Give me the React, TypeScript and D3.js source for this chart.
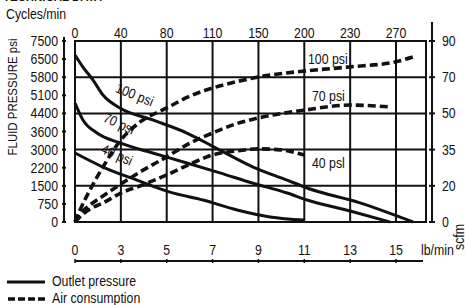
import React from 'react';
import * as d3 from 'd3';

// axis tick values (both x axes share the same grid columns)
const lbTicks = [0, 3, 5, 7, 9, 11, 13, 15];
const cycleTicks = [0, 40, 80, 110, 150, 200, 230, 270];
const psiTicks = [0, 750, 1500, 2200, 3000, 3600, 4400, 5100, 5800, 6500, 7500];
const scfmTicks = [0, 20, 35, 50, 70, 90];

// outlet pressure (psi) vs flow (lb/min)
const outlet100: [number, number][] = [
  [0, 6730], [0.52, 6190], [1.18, 5690], [1.83, 5110], [2.94, 4610], [4.39, 4110],
  [5.88, 3550], [7.32, 2980], [8.77, 2230], [10.25, 1720], [11.12, 1410], [13.43, 790], [15.74, 0],
];
const outlet70: [number, number][] = [
  [0, 4800], [0.52, 4110], [1.44, 3550], [2.94, 3220], [4.39, 2850], [5.88, 2410],
  [7.32, 2000], [8.77, 1600], [10.25, 1200], [11.12, 910], [13, 455], [14.74, 0],
];
const outlet40: [number, number][] = [
  [0, 2850], [1.83, 2230], [3.7, 1720], [5.14, 1240], [6.58, 910], [8.07, 500], [9.51, 210], [11, 80],
];

// air consumption (scfm) vs flow (lb/min)
const air100: [number, number][] = [
  [0, 0], [0.33, 6.6], [0.98, 17.7], [1.83, 27.8], [3, 39], [3.83, 46.4], [5, 53], [6.02, 59.6],
  [7, 64], [8, 67.4], [9, 70.1], [11, 73.4], [13, 75.7], [14.95, 78.4], [15.74, 81.2],
];
const air70: [number, number][] = [
  [0, 0], [0.33, 4.4], [0.98, 9.4], [1.83, 14.4], [3, 20.7], [3.83, 25.7], [5, 32], [6.02, 37.7],
  [7, 41.9], [8, 45.6], [9, 48.1], [11, 51.8], [13, 54.6], [14.74, 53.6],
];
const air40: [number, number][] = [
  [0, 0], [0.46, 3.9], [0.98, 7.2], [1.83, 10.5], [3, 16], [3.83, 19.9], [5, 24.5], [6.02, 29],
  [7, 32.8], [8, 34.4], [9, 35.3], [9.95, 34.9], [11, 32.8],
];

const FONT = "'Liberation Sans', Arial, sans-serif";
const INK = '#111';

// condensed text: regular sans squeezed horizontally
function T(props: {
  x: number; y: number; size?: number; anchor?: string; rotate?: number;
  dy?: string; weight?: string; children: React.ReactNode;
}) {
  const { x, y, size = 14, anchor = 'start', rotate = 0, dy, weight, children } = props;
  return (
    <text
      transform={`translate(${x},${y}) rotate(${rotate}) scale(0.88,1)`}
      fontSize={size}
      textAnchor={anchor}
      dy={dy}
      fontWeight={weight}
      fill={INK}
    >
      {children}
    </text>
  );
}

export default function App() {
  const left = 75;
  const right = 426;
  const top = 41;
  const bottom = 222;
  const colStep = 45.86;
  const rowStep = (bottom - top) / 5;

  const x = d3.scaleLinear().domain(lbTicks).range(lbTicks.map((_, i) => left + i * colStep));
  const xTop = d3.scaleLinear().domain(cycleTicks).range(cycleTicks.map((_, i) => left + i * colStep));
  const yPsi = d3.scaleLinear().domain(psiTicks).range(psiTicks.map((_, i) => bottom - (i * rowStep) / 2));
  const yScfm = d3.scaleLinear().domain(scfmTicks).range(scfmTicks.map((_, i) => bottom - i * rowStep));

  const psiLine = d3.line<[number, number]>()
    .x(d => x(d[0]))
    .y(d => yPsi(d[1]))
    .curve(d3.curveMonotoneX);
  const airLine = d3.line<[number, number]>()
    .x(d => x(d[0]))
    .y(d => yScfm(d[1]))
    .curve(d3.curveMonotoneX);

  const axisX = 64;
  const rAxisX = 432;
  const bAxisY = 261;

  return (
    <svg width={465} height={305} style={{ position: 'absolute', left: 0, top: 0 }} fontFamily={FONT}>
      <rect width={465} height={305} fill="#fff" />
      <T x={3} y={1} size={13} weight="bold">TECHNICAL DATA</T>
      <T x={6} y={19}>Cycles/min</T>

      {/* grid */}
      {lbTicks.slice(1).map(t => (
        <line key={'gx' + t} x1={x(t)} x2={x(t)} y1={top} y2={bottom} stroke={INK} strokeWidth={2} />
      ))}
      {scfmTicks.slice(1, -1).map(t => (
        <line key={'gy' + t} x1={left} x2={right} y1={yScfm(t)} y2={yScfm(t)} stroke={INK} strokeWidth={2} />
      ))}
      <rect x={left} y={top} width={right - left} height={bottom - top} fill="none" stroke={INK} strokeWidth={2} />

      {/* top axis labels */}
      {cycleTicks.map(t => (
        <T key={'ct' + t} x={xTop(t)} y={38} anchor="middle">{t}</T>
      ))}

      {/* left axis */}
      <line x1={axisX} x2={axisX} y1={37} y2={bottom} stroke={INK} strokeWidth={2} />
      {psiTicks.map(t => (
        <g key={'pt' + t}>
          <line x1={axisX - 2} x2={axisX + 2} y1={yPsi(t)} y2={yPsi(t)} stroke={INK} strokeWidth={2} />
          <T x={58} y={yPsi(t)} dy="0.36em" anchor="end">{t}</T>
        </g>
      ))}
      <T x={17} y={97} size={13} rotate={-90} anchor="middle">FLUID PRESSURE psi</T>

      {/* right axis */}
      <line x1={rAxisX} x2={rAxisX} y1={22} y2={bottom} stroke={INK} strokeWidth={2} />
      {scfmTicks.map(t => (
        <g key={'st' + t}>
          <line x1={rAxisX - 3} x2={rAxisX + 3} y1={yScfm(t)} y2={yScfm(t)} stroke={INK} strokeWidth={2} />
          <T x={442} y={yScfm(t)} dy="0.36em">{t}</T>
        </g>
      ))}
      <T x={464} y={237} rotate={-90} anchor="middle">scfm</T>

      {/* bottom axis */}
      <line x1={left} x2={423} y1={bAxisY} y2={bAxisY} stroke={INK} strokeWidth={2} />
      {lbTicks.map(t => (
        <g key={'lt' + t}>
          <line x1={x(t)} x2={x(t)} y1={bAxisY - 2} y2={bAxisY + 2} stroke={INK} strokeWidth={1.5} />
          <T x={x(t)} y={255} anchor="middle">{t}</T>
        </g>
      ))}
      <T x={421} y={255}>lb/min</T>

      {/* air consumption */}
      {[air100, air70, air40].map((s, i) => (
        <path key={'a' + i} d={airLine(s) || ''} fill="none" stroke={INK} strokeWidth={3.6} strokeDasharray="8,4" />
      ))}
      {/* outlet pressure */}
      {[outlet100, outlet70, outlet40].map((s, i) => (
        <path key={'o' + i} d={psiLine(s) || ''} fill="none" stroke={INK} strokeWidth={3} />
      ))}

      {/* curve labels */}
      <T x={x(3.52)} y={yPsi(4950)} rotate={22} anchor="middle">100 psi</T>
      <T x={x(2.75)} y={yPsi(3760)} rotate={25} anchor="middle">70 psi</T>
      <T x={x(2.62)} y={yPsi(2580)} rotate={24} anchor="middle">40 psi</T>
      <T x={308} y={64}>100 psi</T>
      <T x={312} y={101}>70 psi</T>
      <T x={312} y={168}>40 psl</T>

      {/* legend */}
      <line x1={7} x2={45} y1={282} y2={282} stroke={INK} strokeWidth={3} />
      <T x={52} y={286}>Outlet pressure</T>
      <line x1={8} x2={45} y1={299} y2={299} stroke={INK} strokeWidth={3.5} strokeDasharray="7,3" />
      <T x={52} y={303}>Air consumption</T>
    </svg>
  );
}
